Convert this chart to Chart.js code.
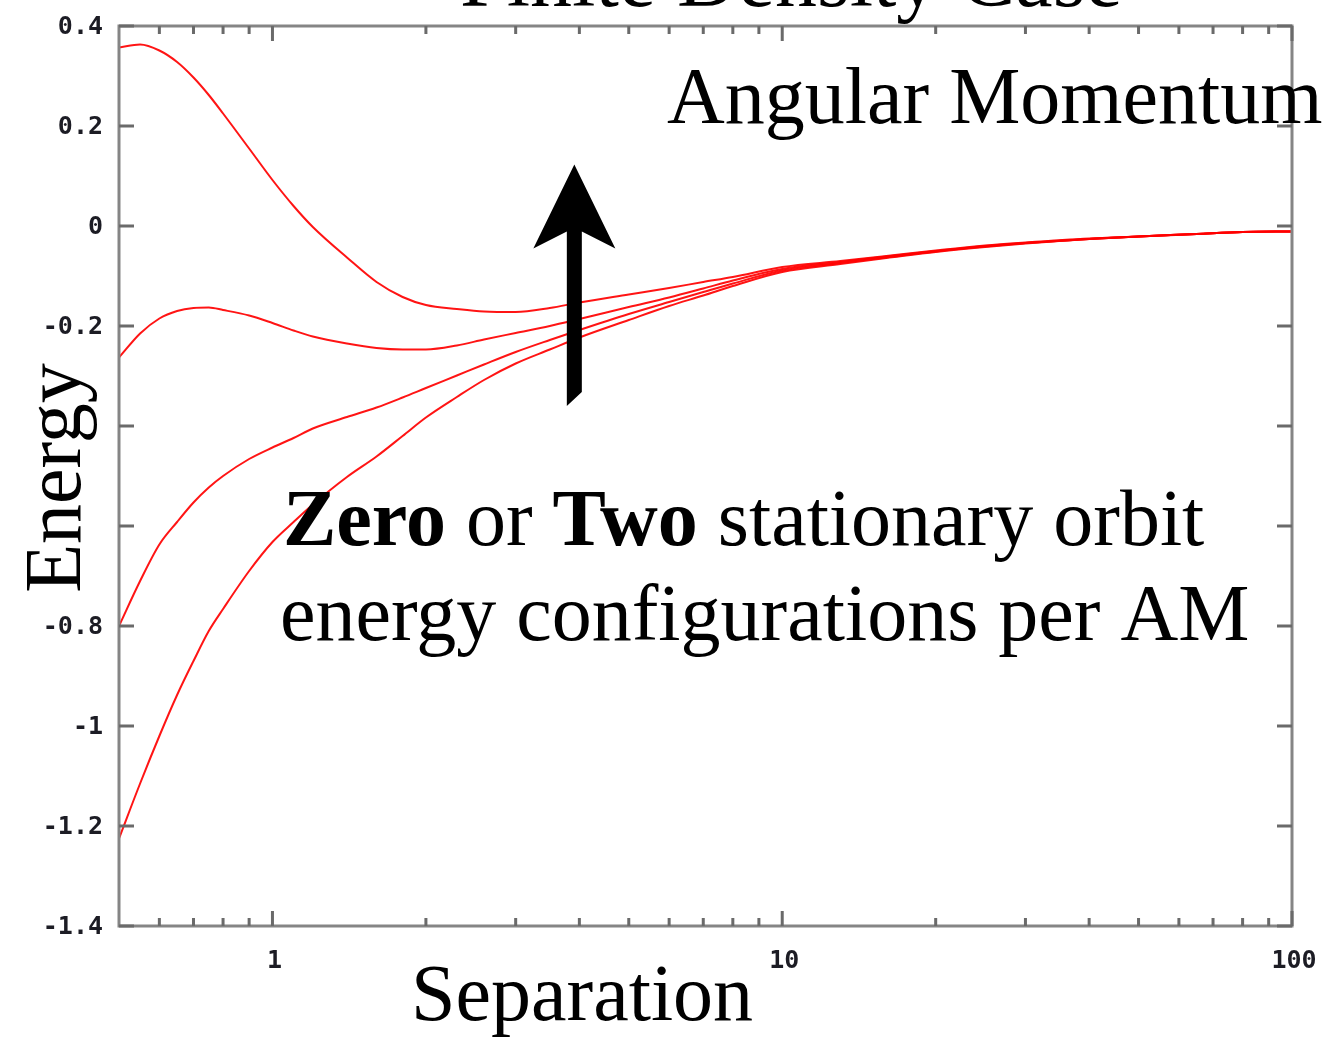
<!DOCTYPE html>
<html>
<head>
<meta charset="utf-8">
<script src="https://cdn.jsdelivr.net/npm/chart.js@4.4.1/dist/chart.umd.min.js"></script>
<style>
  html, body { margin: 0; padding: 0; background: #fff; }
  #wrap { width: 1334px; height: 1039px; }
</style>
</head>
<body>
<div id="wrap"><canvas id="energyChart" width="1334" height="1039"></canvas></div>
<script>
// separation values (log axis) shared by every curve
const separation = [0.5, 0.55, 0.6, 0.65, 0.7, 0.75, 0.8, 0.9, 1.0, 1.1, 1.2, 1.4, 1.6, 1.8, 2.0, 2.3, 2.6, 3.0, 3.5, 4, 5, 6, 7, 8, 10, 13, 16, 20, 25, 30, 40, 50, 65, 80, 100];

// energy curves, one per angular momentum
const energyAM1 = [0.357, 0.363, 0.351, 0.328, 0.297, 0.262, 0.225, 0.155, 0.092, 0.040, -0.002, -0.063, -0.112, -0.142, -0.158, -0.166, -0.171, -0.172, -0.164, -0.153, -0.137, -0.124, -0.112, -0.102, -0.082, -0.070, -0.060, -0.049, -0.039, -0.033, -0.025, -0.021, -0.016, -0.012, -0.011];
const energyAM2 = [-0.263, -0.215, -0.185, -0.170, -0.164, -0.163, -0.168, -0.179, -0.194, -0.209, -0.221, -0.235, -0.244, -0.247, -0.247, -0.239, -0.227, -0.214, -0.200, -0.186, -0.162, -0.143, -0.125, -0.109, -0.086, -0.072, -0.061, -0.050, -0.040, -0.034, -0.026, -0.021, -0.016, -0.012, -0.011];
const energyAM3 = [-0.800, -0.710, -0.637, -0.592, -0.553, -0.523, -0.500, -0.466, -0.443, -0.424, -0.405, -0.382, -0.363, -0.343, -0.324, -0.299, -0.277, -0.252, -0.228, -0.208, -0.176, -0.152, -0.132, -0.115, -0.089, -0.074, -0.063, -0.051, -0.041, -0.034, -0.026, -0.021, -0.016, -0.012, -0.011];
const energyAM4 = [-1.225, -1.115, -1.020, -0.938, -0.870, -0.810, -0.766, -0.690, -0.632, -0.592, -0.557, -0.502, -0.461, -0.420, -0.383, -0.342, -0.308, -0.275, -0.247, -0.223, -0.188, -0.160, -0.139, -0.120, -0.092, -0.076, -0.064, -0.052, -0.042, -0.035, -0.026, -0.021, -0.016, -0.012, -0.011];

const yTickValues = [0.4, 0.2, 0, -0.2, -0.4, -0.6, -0.8, -1, -1.2, -1.4];
const yTickLabels = ['0.4', '0.2', '0', '-0.2', '-0.4', '-0.6', '-0.8', '-1', '-1.2', '-1.4'];
const xMajorTicks = [1, 10, 100];
const xTickLabels = ['1', '10', '100'];
const xMinorTicks = [0.6, 0.7, 0.8, 0.9, 2, 3, 4, 5, 6, 7, 8, 9, 20, 30, 40, 50, 60, 70, 80, 90];

// arrow annotation (data coords)
const arrowX = 3.91;
const arrowTipY = 0.123;
const arrowTailY = -0.36;

const serif = '"Liberation Serif", "Times New Roman", serif';
const mono = '"DejaVu Sans Mono", monospace';

function makeSeries(values) {
  return {
    data: separation.map((s, i) => ({ x: s, y: values[i] })),
    borderColor: 'rgba(255,0,0,0.92)',
    borderWidth: 2,
    pointRadius: 0,
    fill: false,
    cubicInterpolationMode: 'monotone'
  };
}

// box, inward ticks and tick labels
const framePlugin = {
  id: 'frame',
  afterDatasetsDraw(chart) {
    const ctx = chart.ctx;
    const a = chart.chartArea;
    const xs = chart.scales.x;
    const ys = chart.scales.y;
    ctx.save();
    ctx.strokeStyle = '#858585';
    ctx.lineWidth = 3;
    ctx.strokeRect(a.left, a.top, a.right - a.left, a.bottom - a.top);

    ctx.strokeStyle = '#6a6a6a';
    ctx.beginPath();
    yTickValues.forEach(v => {
      const py = ys.getPixelForValue(v);
      ctx.moveTo(a.left, py); ctx.lineTo(a.left + 15, py);
      ctx.moveTo(a.right, py); ctx.lineTo(a.right - 15, py);
    });
    xMajorTicks.forEach(v => {
      const px = xs.getPixelForValue(v);
      ctx.moveTo(px, a.bottom); ctx.lineTo(px, a.bottom - 15);
      ctx.moveTo(px, a.top); ctx.lineTo(px, a.top + 15);
    });
    xMinorTicks.forEach(v => {
      const px = xs.getPixelForValue(v);
      ctx.moveTo(px, a.bottom); ctx.lineTo(px, a.bottom - 8);
      ctx.moveTo(px, a.top); ctx.lineTo(px, a.top + 8);
    });
    ctx.stroke();

    ctx.fillStyle = '#1c1c24';
    ctx.font = 'bold 25px ' + mono;
    ctx.textAlign = 'right';
    ctx.textBaseline = 'middle';
    yTickValues.forEach((v, i) => {
      ctx.fillText(yTickLabels[i], a.left - 16, ys.getPixelForValue(v) + 1);
    });
    ctx.textAlign = 'center';
    xMajorTicks.forEach((v, i) => {
      ctx.fillText(xTickLabels[i], xs.getPixelForValue(v) + 2, a.bottom + 35);
    });
    ctx.restore();
  },
  afterDraw(chart) {
    const ctx = chart.ctx;
    const xs = chart.scales.x;
    const ys = chart.scales.y;
    ctx.save();
    ctx.fillStyle = '#000';

    // arrow
    const ax = xs.getPixelForValue(arrowX);
    const tip = ys.getPixelForValue(arrowTipY);
    const tail = ys.getPixelForValue(arrowTailY);
    ctx.beginPath();
    ctx.moveTo(ax, tip);
    ctx.lineTo(ax + 41, tip + 84);
    ctx.lineTo(ax + 7.5, tip + 67);
    ctx.lineTo(ax + 7.5, tail - 14);
    ctx.lineTo(ax - 7.5, tail);
    ctx.lineTo(ax - 7.5, tip + 67);
    ctx.lineTo(ax - 41, tip + 84);
    ctx.closePath();
    ctx.fill();

    ctx.textBaseline = 'alphabetic';
    ctx.textAlign = 'left';
    ctx.font = '84px ' + serif;
    ctx.fillText('Finite Density Case', 460, 6);

    ctx.font = '80px ' + serif;
    ctx.fillText('Angular Momentum', 667, 123);

    // two-line note with bold words
    let x = 283;
    const parts = [['Zero', true], [' or ', false], ['Two', true], [' stationary orbit', false]];
    parts.forEach(p => {
      ctx.font = (p[1] ? 'bold ' : '') + '80px ' + serif;
      ctx.fillText(p[0], x, 545);
      x += ctx.measureText(p[0]).width;
    });
    ctx.font = '80px ' + serif;
    ctx.fillText('energy configurations per AM', 280, 640);

    ctx.fillText('Separation', 411, 1020);

    // y title sits on a white box
    ctx.fillStyle = '#fff';
    ctx.fillRect(14, 350, 90, 254);
    ctx.fillStyle = '#000';
    ctx.translate(80, 478);
    ctx.rotate(-Math.PI / 2);
    ctx.textAlign = 'center';
    ctx.fillText('Energy', 0, 0);
    ctx.restore();
  }
};

const ctx = document.getElementById('energyChart').getContext('2d');
const energyChart = new Chart(ctx, {
  type: 'line',
  data: {
    datasets: [makeSeries(energyAM1), makeSeries(energyAM2), makeSeries(energyAM3), makeSeries(energyAM4)]
  },
  options: {
    responsive: false,
    animation: false,
    devicePixelRatio: 1,
    layout: { padding: { left: 119, right: 42, top: 26, bottom: 113 } },
    plugins: { legend: { display: false }, tooltip: { enabled: false } },
    scales: {
      x: { type: 'logarithmic', min: 0.5, max: 100, display: false },
      y: { type: 'linear', min: -1.4, max: 0.4, display: false }
    }
  },
  plugins: [framePlugin]
});
</script>
</body>
</html>
